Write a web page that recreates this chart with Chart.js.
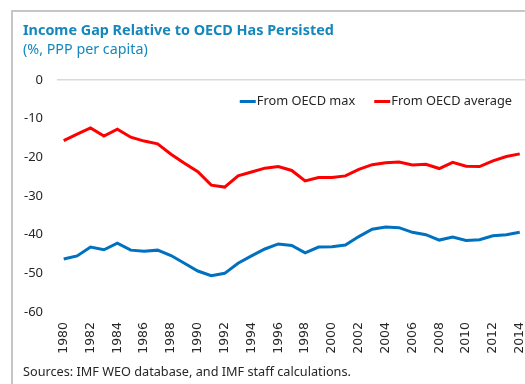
<!DOCTYPE html>
<html>
<head>
<meta charset="utf-8">
<script src="https://cdn.jsdelivr.net/npm/chart.js@4/dist/chart.umd.min.js"></script>
<style>
  html, body { margin: 0; padding: 0; background: #fff; }
  #wrap { position: relative; width: 525px; height: 384px; overflow: hidden; background: #fff; }
  #frame { position: absolute; left: 11px; top: 10px; width: 600px; height: 500px;
           border-left: 2px solid #c6c6c6; border-top: 2px solid #c6c6c6; }
  #chart { position: absolute; left: 0; top: 0; }
  .txt { position: absolute; white-space: nowrap; font-family: "Noto Sans", sans-serif; }
  #title { left: 23px; top: 20px; font-size: 14.4px; font-weight: bold; color: #1487bd; }
  #subtitle { left: 23px; top: 39px; font-size: 14.3px; color: #1487bd; }
  #source { left: 23px; top: 362px; font-size: 12.7px; color: #262626; }
</style>
</head>
<body>
<div id="wrap">
  <div id="frame"></div>
  <canvas id="chart" width="545" height="384"></canvas>
  <div class="txt" id="title">Income Gap Relative to OECD Has Persisted</div>
  <div class="txt" id="subtitle">(%, PPP per capita)</div>
  <div class="txt" id="source">Sources: IMF WEO database, and IMF staff calculations.</div>
</div>
<script>
// Years 1980-2014
const years = [
  1980, 1981, 1982, 1983, 1984, 1985, 1986, 1987, 1988, 1989,
  1990, 1991, 1992, 1993, 1994, 1995, 1996, 1997, 1998, 1999,
  2000, 2001, 2002, 2003, 2004, 2005, 2006, 2007, 2008, 2009,
  2010, 2011, 2012, 2013, 2014
];

// Gap from the OECD maximum (%)
const fromOecdMax = [
  -46.3, -45.5, -43.2, -43.9, -42.2, -44.0, -44.3, -44.0, -45.4, -47.4,
  -49.4, -50.6, -50.0, -47.4, -45.5, -43.7, -42.4, -42.8, -44.7, -43.2,
  -43.1, -42.7, -40.5, -38.6, -38.0, -38.2, -39.4, -40.0, -41.4, -40.6,
  -41.5, -41.3, -40.3, -40.0, -39.4
];

// Gap from the OECD average (%)
const fromOecdAverage = [
  -15.7, -14.0, -12.4, -14.5, -12.7, -14.8, -15.8, -16.5, -19.2, -21.5,
  -23.7, -27.2, -27.7, -24.8, -23.8, -22.8, -22.4, -23.4, -26.1, -25.2,
  -25.2, -24.8, -23.1, -21.9, -21.4, -21.2, -22.0, -21.8, -22.9, -21.3,
  -22.3, -22.4, -20.9, -19.8, -19.1
];

const seriesNames = ["From OECD max", "From OECD average"];
const seriesColors = ["#0070c0", "#ff0000"];

const yTicks = { min: -60, max: 0, step: 10 };

// Legend drawn inside the plot area, top right
const insideLegend = {
  id: "insideLegend",
  afterDraw(chart) {
    const ctx = chart.ctx;
    ctx.save();
    ctx.font = "12.8px 'Noto Sans', sans-serif";
    ctx.textBaseline = "middle";
    ctx.textAlign = "left";
    const sample = 16, gapText = 1, gapItem = 19;
    const items = chart.data.datasets.map(ds => ({
      label: ds.label, color: ds.borderColor, w: ctx.measureText(ds.label).width
    }));
    let total = 0;
    items.forEach((it, i) => { total += sample + gapText + it.w + (i ? gapItem : 0); });
    let x = 512 - total;
    const y = 101.5;
    items.forEach((it, i) => {
      if (i) x += gapItem;
      ctx.strokeStyle = it.color;
      ctx.lineWidth = 3;
      ctx.beginPath();
      ctx.moveTo(x, y);
      ctx.lineTo(x + sample, y);
      ctx.stroke();
      x += sample + gapText;
      ctx.fillStyle = "#262626";
      ctx.fillText(it.label, x, y);
      x += it.w;
    });
    ctx.restore();
  }
};

new Chart(document.getElementById("chart"), {
  type: "line",
  data: {
    labels: years.map(String),
    datasets: [
      { label: seriesNames[0], data: fromOecdMax, borderColor: seriesColors[0],
        backgroundColor: seriesColors[0], borderWidth: 3, pointRadius: 0, tension: 0 },
      { label: seriesNames[1], data: fromOecdAverage, borderColor: seriesColors[1],
        backgroundColor: seriesColors[1], borderWidth: 3, pointRadius: 0, tension: 0 }
    ]
  },
  options: {
    responsive: false,
    animation: false,
    devicePixelRatio: 1,
    layout: { padding: { top: 80, right: 18, bottom: 0, left: 0 } },
    plugins: {
      legend: { display: false },
      tooltip: { enabled: false }
    },
    scales: {
      x: {
        offset: true,
        grid: { display: false, drawTicks: false },
        border: { display: false },
        afterFit(scale) { scale.height = 72; },
        ticks: {
          autoSkip: false,
          minRotation: 90,
          maxRotation: 90,
          padding: 10,
          color: "#262626",
          font: { family: "'DejaVu Sans', sans-serif", size: 12.5 },
          callback(value, index) { return index % 2 === 0 ? this.getLabelForValue(value) : ""; }
        }
      },
      y: {
        min: yTicks.min,
        max: yTicks.max,
        afterFit(scale) { scale.width = 57; },
        grid: {
          drawTicks: false,
          color: ctx => (ctx.tick && ctx.tick.value === 0 ? "#d9d9d9" : "rgba(0,0,0,0)"),
          lineWidth: 1.5
        },
        border: { display: false },
        ticks: {
          stepSize: yTicks.step,
          padding: 14,
          color: "#262626",
          font: { family: "'Noto Sans', sans-serif", size: 13 }
        }
      }
    }
  },
  plugins: [insideLegend]
});
</script>
</body>
</html>
